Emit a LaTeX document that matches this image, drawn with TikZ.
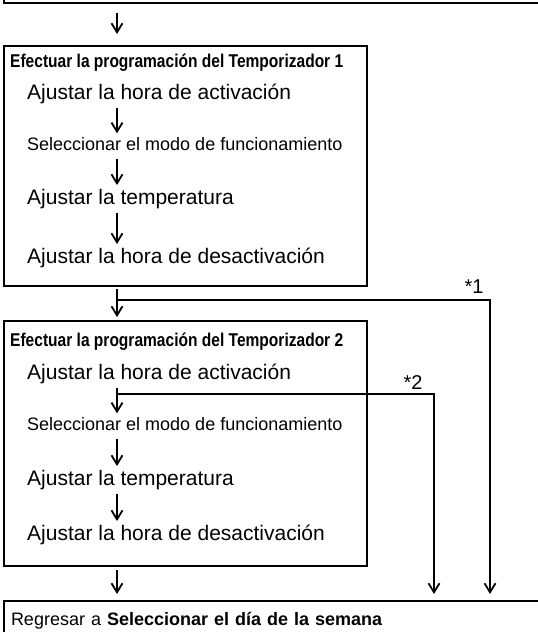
\documentclass[tikz,border=0pt]{standalone}
\usepackage{fontspec}
\setmainfont{Liberation Sans}
\newfontfamily\narrowfont[FakeStretch=0.84]{Liberation Sans}
\usetikzlibrary{arrows.meta}

\tikzset{
  box/.style={draw, line width=2pt, inner sep=0pt},
  stepline/.style={anchor=west, inner sep=0pt, font=\fontsize{21}{24}\selectfont, text height=15pt, text depth=4.5pt},
  smallstep/.style={anchor=west, inner sep=0pt, font=\fontsize{18}{21}\selectfont, text height=13pt, text depth=4pt},
  timertitle/.style={anchor=west, inner sep=0pt, font=\narrowfont\bfseries\fontsize{18.5}{21}\selectfont},
  note/.style={inner sep=0pt, font=\fontsize{20}{24}\selectfont},
  flow/.style={line width=1.8pt, -{Straight Barb[length=9pt,width=11pt]}, shorten <=4pt, shorten >=4pt},
}

\begin{document}
\begin{tikzpicture}[x=1pt, y=-1pt]
\useasboundingbox (0,0) rectangle (538,632);
\clip (0,0) rectangle (538,632);
\coordinate (spine) at (117,0);
\coordinate (drop1) at (490,0);
\coordinate (drop2) at (434,0);

% previous step, only its lower edge shows
\node[box, anchor=south west, minimum width=560pt, minimum height=60pt] (prev) at (3,4) {};

% timer 1
\node[box, anchor=north west, minimum width=363pt, minimum height=240pt] (timer1) at (3,45) {};
\node[timertitle] (title1) at (10,63) {Efectuar la programación del Temporizador 1};
\node[stepline] (on1) at (27,94) {Ajustar la hora de activación};
\node[smallstep] (mode1) at (27,146) {Seleccionar el modo de funcionamiento};
\node[stepline] (temp1) at (27,199) {Ajustar la temperatura};
\node[stepline] (off1) at (27,258) {Ajustar la hora de desactivación};

% timer 2
\node[box, anchor=north west, minimum width=363pt, minimum height=245pt] (timer2) at (3,320) {};
\node[timertitle] (title2) at (10,342) {Efectuar la programación del Temporizador 2};
\node[stepline] (on2) at (27,374) {Ajustar la hora de activación};
\node[smallstep] (mode2) at (27,426) {Seleccionar el modo de funcionamiento};
\node[stepline] (temp2) at (27,480) {Ajustar la temperatura};
\node[stepline] (off2) at (27,535) {Ajustar la hora de desactivación};

% back to the weekday
\node[box, anchor=north west, minimum height=40pt, text width=545pt, align=left, inner xsep=7pt,
  font=\fontsize{18}{22}\selectfont] (back) at (3,600) {Regresar a \textbf{Seleccionar el día de la semana}};

% main flow
\draw[flow, shorten <=9pt, shorten >=11pt] (prev.south -| spine) -- (timer1.north -| spine);
\draw[flow] (on1.south -| spine) -- (mode1.north -| spine);
\draw[flow] (mode1.south -| spine) -- (temp1.north -| spine);
\draw[flow] (temp1.south -| spine) -- (off1.north -| spine);
\draw[flow, shorten <=2pt, shorten >=3pt] (timer1.south -| spine) -- (timer2.north -| spine);
\draw[flow] (on2.south -| spine) -- (mode2.north -| spine);
\draw[flow] (mode2.south -| spine) -- (temp2.north -| spine);
\draw[flow] (temp2.south -| spine) -- (off2.north -| spine);
\draw[flow, shorten <=3pt, shorten >=6pt] (timer2.south -| spine) -- (back.north -| spine);

% skips
\coordinate (skip1) at (117,300);
\coordinate (skip2) at (117,394);
\draw[flow, shorten <=0pt, shorten >=6pt] (skip1) -| (back.north -| drop1);
\draw[flow, shorten <=0pt, shorten >=6pt] (skip2) -| (back.north -| drop2);
\node[note] (note1) at (474,287) {*1};
\node[note] (note2) at (413,383) {*2};
\end{tikzpicture}
\end{document}
